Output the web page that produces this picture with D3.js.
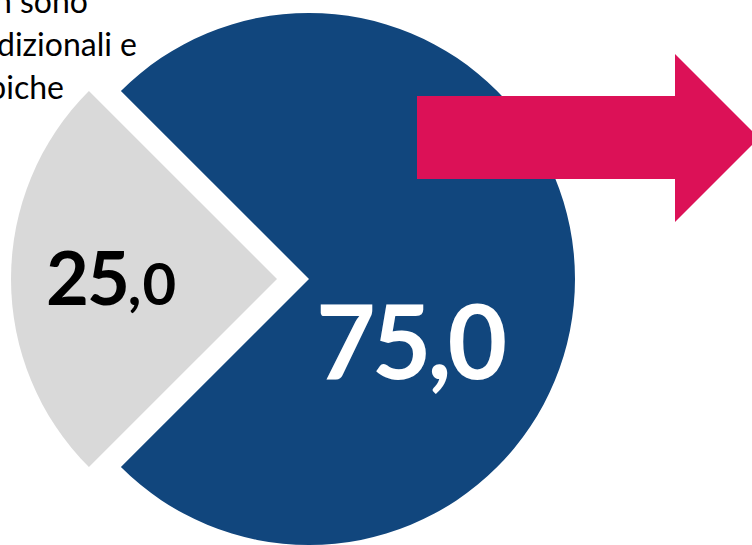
<!DOCTYPE html>
<html><head><meta charset="utf-8">
<script src="https://cdn.jsdelivr.net/npm/d3@7/dist/d3.min.js"></script>
<style>
html,body{margin:0;padding:0;background:#fff;overflow:hidden;}
svg{display:block;}
</style></head>
<body>
<script>
// Data
const categories = ["Nuclei tradizionali", "Nuclei non tradizionali e atipiche"];
const values = [75.0, 25.0];
const labels = ["75,0", "25,0"];
const colors = ["#11467d", "#d9d9d9"];
const noteLines = ["che non sono", "tradizionali e", "tipiche"];

const W = 752, H = 545;
const svg = d3.select("body").append("svg").attr("width", W).attr("height", H);

const cx = 309, cy = 279, R = 266, explode = 32;

const pie = d3.pie().sort(null).startAngle(-Math.PI/4).endAngle(7*Math.PI/4);
const arcs = pie(values);
const arc = d3.arc().innerRadius(0).outerRadius(R);

const g = svg.append("g").attr("transform", `translate(${cx},${cy})`);

arcs.forEach((a, i) => {
  const mid = (a.startAngle + a.endAngle) / 2;
  const off = i === 1 ? explode : 0;
  const dx = Math.sin(mid) * off, dy = -Math.cos(mid) * off;
  g.append("path").attr("d", arc(a)).attr("fill", colors[i])
    .attr("transform", `translate(${dx},${dy})`);
});

// Arrow
const arrow = [[417,96],[675,96],[675,54],[759,138],[675,222],[675,179],[417,179]];
svg.append("polygon").attr("points", arrow.map(p => p.join(",")).join(" ")).attr("fill", "#dc1157");

// Labels
svg.append("text").attr("x", 316).attr("y", 379)
  .attr("font-family", "Lato, 'Open Sans', sans-serif").attr("font-weight", 700)
  .attr("font-size", 103).attr("letter-spacing", -4).attr("fill", "#fff").text(labels[0]);

const lab2parts = labels[1].split(",");
const t2 = svg.append("text").attr("x", 46).attr("y", 305)
  .attr("font-family", "Lato, 'Open Sans', sans-serif").attr("font-weight", 700).attr("fill", "#000");
t2.append("tspan").attr("font-size", 74).attr("letter-spacing", -2).text(lab2parts[0]);
t2.append("tspan").attr("font-size", 58).attr("letter-spacing", 1).text("," + lab2parts[1]);

// Note text (cut at left edge)
const noteX = [88, 137, 64];
const noteY = [13, 56, 99];
noteLines.forEach((s, i) => {
  svg.append("text").attr("x", noteX[i]).attr("y", noteY[i]).attr("text-anchor", "end")
    .attr("font-family", "Lato, 'Open Sans', sans-serif").attr("font-size", 32)
    .attr("fill", "#000").text(s);
});
</script>
</body></html>
